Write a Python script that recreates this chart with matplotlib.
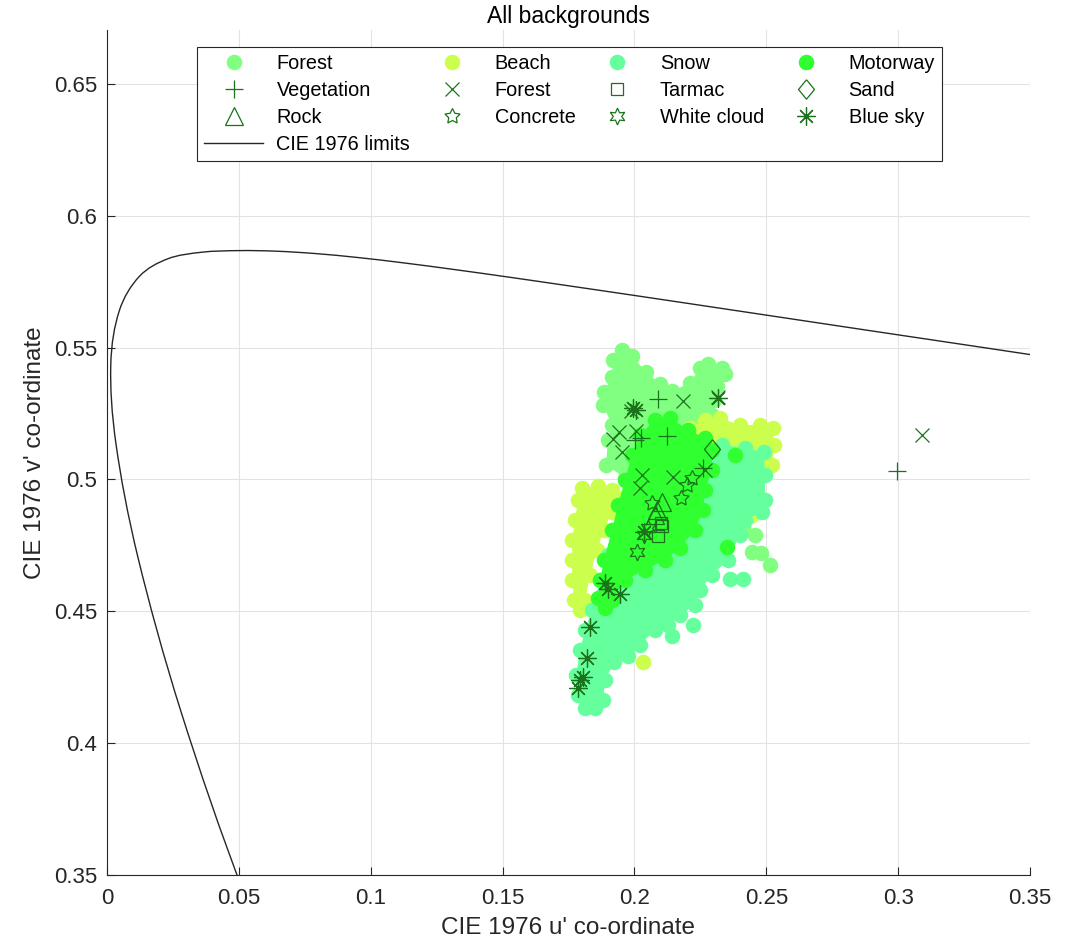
import numpy as np
import matplotlib
matplotlib.use("Agg")
import matplotlib.pyplot as plt
from matplotlib.ticker import FuncFormatter
from matplotlib.path import Path
from matplotlib.patches import PathPatch
from matplotlib.lines import Line2D

plt.rcParams['font.family'] = ['Liberation Sans', 'DejaVu Sans']

# spectral locus, CIE 1931 2 deg chromaticity (x, y), 480-600 nm in 5 nm steps
locus_x = [0.0913, 0.0687, 0.0454, 0.0235, 0.0082, 0.0039, 0.0139, 0.0389, 0.0743,
           0.1142, 0.1547, 0.1929, 0.2296, 0.2658, 0.3016, 0.3373, 0.3731, 0.4087,
           0.4441, 0.4788, 0.5125, 0.5448, 0.5752, 0.6029, 0.6270]
locus_y = [0.1327, 0.2007, 0.2950, 0.4127, 0.5384, 0.6548, 0.7502, 0.8120, 0.8338,
           0.8262, 0.8059, 0.7816, 0.7543, 0.7243, 0.6923, 0.6589, 0.6245, 0.5896,
           0.5547, 0.5202, 0.4866, 0.4544, 0.4242, 0.3965, 0.3725]

# background pixel clouds (u', v'): outline points of each cloud plus loose points
forest_u = [0.1953, 0.1991, 0.2044, 0.2097, 0.2143, 0.2211, 0.2249, 0.2279, 0.2332, 0.2344,
            0.2313, 0.2302, 0.2294, 0.2211, 0.2097, 0.1964, 0.1892, 0.1900, 0.1915, 0.1881,
            0.1885, 0.1915, 0.1919]
forest_v = [0.5491, 0.5468, 0.5407, 0.5362, 0.5335, 0.5366, 0.5423, 0.5438, 0.5423, 0.5400,
            0.5354, 0.5301, 0.5244, 0.5150, 0.5036, 0.5006, 0.5055, 0.5150, 0.5207, 0.5282,
            0.5332, 0.5389, 0.5453]
forest_extra_u = [0.2410, 0.2457, 0.2480, 0.2514, 0.2446]
forest_extra_v = [0.4820, 0.4790, 0.4720, 0.4676, 0.4725]

beach_left_u = [0.1801, 0.1862, 0.1915, 0.1938, 0.1915, 0.1885, 0.1858, 0.1832, 0.1813, 0.1794,
                0.1771, 0.1764, 0.1764, 0.1764, 0.1775, 0.1786]
beach_left_v = [0.4968, 0.4975, 0.4960, 0.4930, 0.4877, 0.4808, 0.4732, 0.4638, 0.4543, 0.4505,
                0.4543, 0.4619, 0.4695, 0.4770, 0.4846, 0.4922]
beach_right_u = [0.2211, 0.2268, 0.2325, 0.2400, 0.2476, 0.2526, 0.2529, 0.2522, 0.2476, 0.2363, 0.2249]
beach_right_v = [0.5195, 0.5225, 0.5233, 0.5206, 0.5206, 0.5195, 0.5131, 0.5055, 0.5036, 0.5074, 0.5112]
beach_extra_u = [0.2033, 0.2097, 0.2446]
beach_extra_v = [0.4308, 0.4467, 0.4865]

snow_u = [0.2249, 0.2332, 0.2419, 0.2491, 0.2495, 0.2495, 0.2484, 0.2419, 0.2400, 0.2355,
          0.2294, 0.2249, 0.2230, 0.2173, 0.2127, 0.2078, 0.2021, 0.1976, 0.1923, 0.1889,
          0.1881, 0.1851, 0.1813, 0.1786, 0.1779, 0.1794, 0.1813, 0.1839, 0.1870, 0.1900,
          0.1923, 0.1964, 0.2059, 0.2154]
snow_v = [0.5119, 0.5131, 0.5119, 0.5104, 0.5017, 0.4922, 0.4877, 0.4846, 0.4789, 0.4695,
          0.4638, 0.4581, 0.4524, 0.4486, 0.4448, 0.4429, 0.4372, 0.4330, 0.4308, 0.4239,
          0.4164, 0.4133, 0.4133, 0.4183, 0.4258, 0.4353, 0.4429, 0.4505, 0.4619, 0.4713,
          0.4808, 0.4903, 0.4998, 0.5074]
snow_extra_u = [0.2362, 0.2412, 0.2222, 0.2143]
snow_extra_v = [0.4622, 0.4622, 0.4448, 0.4406]

motorway_u = [0.2078, 0.2135, 0.2203, 0.2268, 0.2294, 0.2294, 0.2268, 0.2260, 0.2230, 0.2173,
              0.2116, 0.2040, 0.1964, 0.1915, 0.1889, 0.1862, 0.1870, 0.1885, 0.1915, 0.1938,
              0.1964, 0.1991, 0.2021]
motorway_v = [0.5225, 0.5233, 0.5188, 0.5157, 0.5112, 0.5036, 0.4960, 0.4884, 0.4808, 0.4740,
              0.4695, 0.4657, 0.4619, 0.4543, 0.4513, 0.4550, 0.4619, 0.4695, 0.4808, 0.4903,
              0.4998, 0.5093, 0.5169]
motorway_extra_u = [0.2381, 0.2351]
motorway_extra_v = [0.5093, 0.4744]

# object measurements (u', v')
veg_u = [0.2090, 0.2124, 0.2002, 0.2025, 0.2260, 0.2996]
veg_v = [0.5305, 0.5165, 0.5150, 0.5157, 0.5043, 0.5032]
forx_u = [0.2184, 0.2317, 0.1987, 0.1942, 0.1919, 0.2006, 0.1953, 0.2029, 0.2021, 0.2146, 0.2268, 0.3090]
forx_v = [0.5297, 0.5313, 0.5260, 0.5180, 0.5153, 0.5184, 0.5104, 0.5017, 0.4968, 0.5009, 0.5036, 0.5169]
rock_u = [0.2105, 0.2086, 0.2078]
rock_v = [0.4915, 0.4884, 0.4865]
tarmac_u = [0.2101, 0.2106, 0.2089]
tarmac_v = [0.4835, 0.4822, 0.4786]
sand_u = [0.2294]
sand_v = [0.5115]
concrete_u = [0.2177, 0.2198, 0.2217, 0.2065]
concrete_v = [0.4929, 0.4979, 0.5004, 0.4910]
cloud_u = [0.2010, 0.2038, 0.2050]
cloud_v = [0.4725, 0.4790, 0.4815]
sky_u = [0.1995, 0.2005, 0.2318, 0.2036, 0.1889, 0.1900, 0.1945, 0.1832, 0.1821, 0.1794, 0.1787, 0.1806]
sky_v = [0.5271, 0.5262, 0.5310, 0.4800, 0.4607, 0.4585, 0.4566, 0.4439, 0.4322, 0.4239, 0.4208, 0.4250]

x_ticks = [0, 0.05, 0.1, 0.15, 0.2, 0.25, 0.3, 0.35]
y_ticks = [0.35, 0.4, 0.45, 0.5, 0.55, 0.6, 0.65]

TXT = '#262626'
MK = '#1a731a'
DOT = 11.2


def xy_to_uv(x, y):
    x = np.asarray(x)
    y = np.asarray(y)
    d = -2 * x + 12 * y + 3
    return 4 * x / d, 9 * y / d


def smooth_path(u, v):
    # draw the tabulated locus as a smooth curve through its points
    pts = np.column_stack([u, v])
    n = len(pts)
    verts = [pts[0]]
    codes = [Path.MOVETO]
    for i in range(n - 1):
        p0 = pts[max(i - 1, 0)]
        p1 = pts[i]
        p2 = pts[i + 1]
        p3 = pts[min(i + 2, n - 1)]
        verts += [p1 + (p2 - p0) / 6, p2 - (p3 - p1) / 6, p2]
        codes += [Path.CURVE4] * 3
    return Path(verts, codes)


def cloud(ax, parts, extra, color, label):
    # each part is an outline; fill it and put a dot on every outline point
    h = None
    for u, v in parts:
        ax.fill(u, v, color=color, lw=0, zorder=2)
        line, = ax.plot(u, v, 'o', ms=DOT, mfc=color, mec='none', zorder=2)
        h = h or line
    ax.plot(extra[0], extra[1], 'o', ms=DOT, mfc=color, mec='none', zorder=2)
    h.set_label(label)
    return h


fig = plt.figure(figsize=(10.74, 9.43), dpi=100)
ax = fig.add_axes([0.0996, 0.0721, 0.8594, 0.8961])

h_forest = cloud(ax, [(forest_u, forest_v)], (forest_extra_u, forest_extra_v), '#80ff80', 'Forest')
h_beach = cloud(ax, [(beach_left_u, beach_left_v), (beach_right_u, beach_right_v)],
                (beach_extra_u, beach_extra_v), '#ccff4d', 'Beach')
h_snow = cloud(ax, [(snow_u, snow_v)], (snow_extra_u, snow_extra_v), '#66ff9e', 'Snow')
h_mot = cloud(ax, [(motorway_u, motorway_v)], (motorway_extra_u, motorway_extra_v), '#30ff30', 'Motorway')

kw = dict(ls='none', color=MK, mec=MK, mfc='none', mew=0.9, zorder=4)
diamond = [(0, 1), (0.82, 0), (0, -1), (-0.82, 0), (0, 1)]
h_veg, = ax.plot(veg_u, veg_v, marker='+', ms=13, label='Vegetation', **kw)
h_forx, = ax.plot(forx_u, forx_v, marker='x', ms=9.5, label='Forest', **kw)
h_rock, = ax.plot(rock_u, rock_v, marker='^', ms=13, label='Rock', **kw)
h_conc, = ax.plot(concrete_u, concrete_v, marker=(5, 1, 0), ms=11.5, label='Concrete', **kw)
h_tar, = ax.plot(tarmac_u, tarmac_v, marker='s', ms=8.5, label='Tarmac', **kw)
h_wc, = ax.plot(cloud_u, cloud_v, marker=(6, 1, 0), ms=12, label='White cloud', **kw)
h_sand, = ax.plot(sand_u, sand_v, marker=diamond, ms=14, label='Sand', **kw)
h_sky, = ax.plot(sky_u, sky_v, marker=(8, 2, 0), ms=13, label='Blue sky', **kw)

lu, lv = xy_to_uv(locus_x, locus_y)
ax.add_patch(PathPatch(smooth_path(lu, lv), fill=False, edgecolor=TXT, lw=1.0, zorder=3))
h_cie = Line2D([], [], color=TXT, lw=1.0, label='CIE 1976 limits')

ax.set_xlim(0, 0.35)
ax.set_ylim(0.35, 0.6704)
ax.set_xticks(x_ticks)
ax.set_yticks(y_ticks)
fmt = FuncFormatter(lambda val, pos: f'{val:g}')
ax.xaxis.set_major_formatter(fmt)
ax.yaxis.set_major_formatter(fmt)
ax.tick_params(direction='in', length=6, width=0.8, colors=TXT, labelsize=16)
ax.tick_params(axis='x', pad=9)
ax.tick_params(axis='y', pad=7)
ax.grid(True, color='#e3e3e3', lw=0.8)
ax.set_axisbelow(True)
for side in ['top', 'right']:
    ax.spines[side].set_visible(False)
for side in ['left', 'bottom']:
    ax.spines[side].set_color(TXT)
    ax.spines[side].set_linewidth(0.8)

ax.set_xlabel("CIE 1976 u' co-ordinate", fontsize=17.5, color=TXT, labelpad=6)
ax.set_ylabel("CIE 1976 v' co-ordinate", fontsize=17.5, color=TXT, labelpad=6)
ax.set_title('All backgrounds', fontsize=16.5, color='black', pad=5)

handles = [h_forest, h_veg, h_rock, h_cie, h_beach, h_forx, h_conc,
           h_snow, h_tar, h_wc, h_mot, h_sand, h_sky]
leg = ax.legend(handles=handles, labels=[h.get_label() for h in handles], ncol=4,
                loc='upper left', bbox_to_anchor=(0.0975, 0.98), borderaxespad=0,
                fontsize=14.3, handlelength=3.0, handletextpad=0.65, columnspacing=0.6,
                borderpad=0.35, labelspacing=0.4, fancybox=False, framealpha=1,
                edgecolor=TXT)
leg.get_frame().set_linewidth(0.8)

fig.savefig('out.png', dpi=100)
